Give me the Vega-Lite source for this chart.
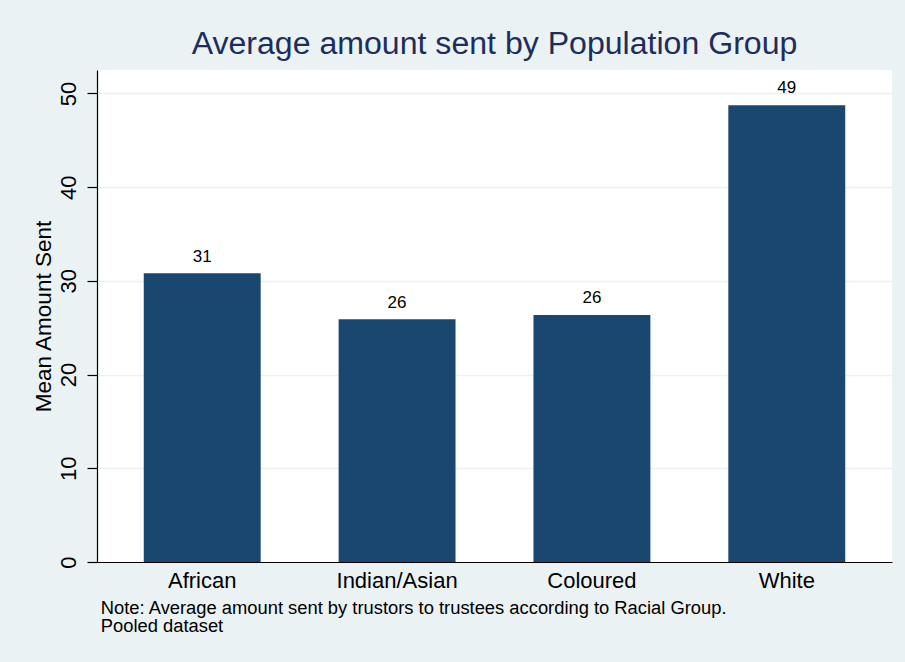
{
  "$schema": "https://vega.github.io/schema/vega-lite/v6.json",
  "width": 795,
  "height": 492,
  "autosize": {"type": "none"},
  "padding": {"left": 97, "top": 70, "right": 13, "bottom": 100},
  "background": "#EAF2F3",
  "title": {
    "text": "Average amount sent by Population Group",
    "fontSize": 32.1,
    "fontWeight": "normal",
    "color": "#1f2d5c",
    "anchor": "middle",
    "frame": "group",
    "baseline": "alphabetic",
    "offset": 13.7,
    "dy": 29.3
  },
  "data": {
    "values": [
      {"group": "African", "mean": 30.81},
      {"group": "Indian/Asian", "mean": 25.9},
      {"group": "Coloured", "mean": 26.36},
      {"group": "White", "mean": 48.75}
    ]
  },
  "encoding": {
    "x": {
      "field": "group",
      "type": "nominal",
      "sort": null,
      "scale": {"paddingInner": 0.4, "paddingOuter": 0.24},
      "axis": {
        "title": ["Note: Average amount sent by trustors to trustees according to Racial Group.", "Pooled dataset"],
        "labelAngle": 0,
        "labelFontSize": 22,
        "labelColor": "#000000",
        "ticks": false,
        "tickSize": 0,
        "labelPadding": 8,
        "domainColor": "#000000",
        "domainWidth": 1.2,
        "grid": false,
        "zindex": 1,
        "titleFontSize": 18.35,
        "titleFontWeight": "normal",
        "titleColor": "#000000",
        "titleAnchor": "start",
        "titleAlign": "left",
        "titleX": 3.3,
        "titleLineHeight": 18.4,
        "titlePadding": 8
      }
    },
    "y": {
      "field": "mean",
      "type": "quantitative",
      "scale": {"domain": [0, 52.5], "nice": false},
      "axis": {
        "title": "Mean Amount Sent",
        "values": [0, 10, 20, 30, 40, 50],
        "labelAngle": -90,
        "labelFontSize": 22,
        "labelColor": "#000000",
        "labelAlign": "center",
        "labelBaseline": "bottom",
        "labelPadding": 7,
        "tickSize": 10,
        "tickColor": "#000000",
        "tickWidth": 1.2,
        "domainColor": "#000000",
        "domainWidth": 1.2,
        "gridColor": "#EAF2F3",
        "gridWidth": 1.5,
        "titleFontSize": 22.5,
        "titleFontWeight": "normal",
        "titleColor": "#000000",
        "titlePadding": 2
      }
    }
  },
  "layer": [
    {"mark": {"type": "bar", "color": "#1a476f"}},
    {
      "mark": {"type": "text", "baseline": "alphabetic", "dy": -11.7, "fontSize": 17, "color": "#000000"},
      "encoding": {"text": {"field": "mean", "type": "quantitative", "format": ".0f"}}
    }
  ],
  "config": {
    "font": "Liberation Sans",
    "view": {"fill": "white", "stroke": null}
  }
}
